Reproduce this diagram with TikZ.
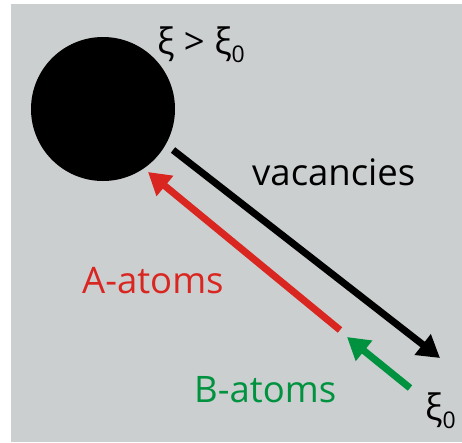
\documentclass[tikz,border=0pt]{standalone}
\usepackage{fontspec}
\setmainfont{Open Sans}
\usetikzlibrary{arrows.meta}
\definecolor{bggray}{RGB}{203,207,208}
\definecolor{fluxred}{RGB}{217,38,32}
\definecolor{fluxgreen}{RGB}{0,146,63}
\newcommand{\xizero}{ξ{\fontsize{23}{23}\selectfont\raisebox{-8pt}{0}}}

\begin{document}
\begin{tikzpicture}[x=1pt, y=-1pt,
    flux/.style={line width=7pt, -{Triangle[length=22pt, width=25pt]}},
    txt/.style={font=\fontsize{36.5}{44}\selectfont, anchor=base west, inner sep=0pt}]
    \useasboundingbox (0,0) rectangle (462,442);
    % Background
    \fill[bggray] (11,4) rectangle (462,442);

    % Precipitate
    \node[circle, fill=black, minimum size=144pt, inner sep=0pt] (prec) at (103,109) {};

    % Flux end points
    \coordinate (vacStart) at (173,150);
    \coordinate (vacEnd) at (440,358);
    \coordinate (aStart) at (340,330);
    \coordinate (aEnd) at (148,172);
    \coordinate (bStart) at (410,388);
    \coordinate (bEnd) at (347,337);

    % Fluxes
    \draw[flux] (vacStart) -- (vacEnd);
    \draw[flux, fluxred] (aStart) -- (aEnd);
    \draw[flux, fluxgreen] (bStart) -- (bEnd);

    % Labels
    \node[txt] (xiTop) at (157,54) {ξ > \xizero};
    \node[txt] (vacLabel) at (252,185) {vacancies};
    \node[txt, fluxred] (aLabel) at (82,293) {A-atoms};
    \node[txt, fluxgreen] (bLabel) at (194,402) {B-atoms};
    \node[txt] (xiBottom) at (425,420) {\xizero};
\end{tikzpicture}
\end{document}
